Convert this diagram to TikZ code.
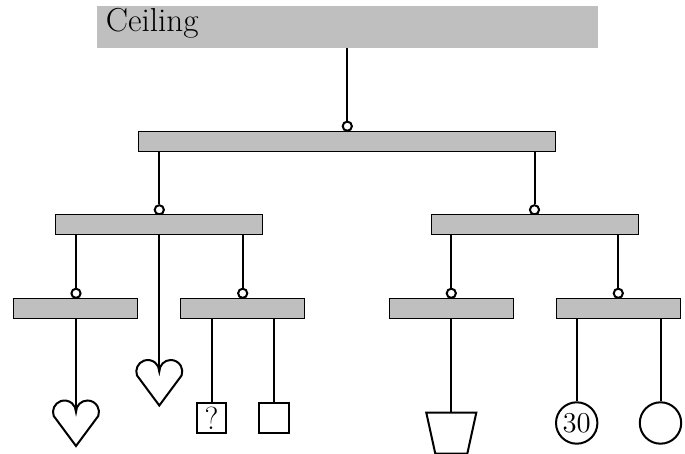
\documentclass[tikz,border=0pt]{standalone}
\begin{document}
\begin{tikzpicture}[x=0.5pt,y=-0.5pt,
  bar/.style={rectangle, draw=black, line width=0.5pt, fill=lightgray,
              inner sep=0pt, minimum height=9.8pt},
  pivot/.style={circle, draw=black, line width=1pt, fill=white,
                inner sep=0pt, minimum size=4.6pt},
  rod/.style={line width=1pt},
  hang/.style={draw=black, line width=1pt},
  ball/.style={circle, hang, inner sep=0pt, minimum size=20.7pt, font=\Large},
  cube/.style={rectangle, hang, inner sep=0pt, minimum size=14.9pt,
               font=\fontsize{16}{19}\selectfont},
  heart/.pic={\path[hang] (0,34) -- (-22.31,3.93)
      arc[start angle=-200, end angle=0, radius=11.5]
      arc[start angle=-180, end angle=20, radius=11.5] -- cycle;}]
\useasboundingbox (0,0) rectangle (685,454);

% ceiling
\node[rectangle, fill=lightgray, inner sep=0pt, minimum width=250.5pt,
      minimum height=21pt] (ceil) at (347.5,27) {};
\node[anchor=base west, inner sep=0pt, font=\fontsize{16.6}{20}\selectfont]
      (ceiltext) at (105.5,31.5) {Ceiling};

% top level
\node[pivot] (p0) at (347.3,126.2) {};
\node[bar, minimum width=208.4pt] (b0) at (347.2,141.3) {};

% second level
\node[pivot] (p1) at (159.3,209.8) {};
\node[pivot] (p2) at (534.5,209.8) {};
\node[bar, minimum width=103.7pt] (b1) at (159.2,224.7) {};
\node[bar, minimum width=103.7pt] (b2) at (535,224.7) {};

% third level
\node[pivot] (p11) at (76,293.3) {};
\node[pivot] (p12) at (242.7,293.3) {};
\node[pivot] (p21) at (451.3,293.3) {};
\node[pivot] (p22) at (618.3,293.3) {};
\node[bar, minimum width=62pt] (b11) at (75.8,308.3) {};
\node[bar, minimum width=62pt] (b12) at (242.5,308.3) {};
\node[bar, minimum width=62pt] (b21) at (451.7,308.3) {};
\node[bar, minimum width=62pt] (b22) at (618.5,308.3) {};

% hanging objects
\coordinate (h0) at (159.3,371.5);
\coordinate (h1) at (76,412);
\pic at (h0) {heart};
\pic at (h1) {heart};
\node[cube] (q) at (211.5,418) {?};
\node[cube] (e) at (274.2,418) {};
\coordinate (tz) at (451.3,412.7);
\path[hang] (tz) ++(-25,0) -- ++(50,0) -- ++(-9,41) -- ++(-32,0) -- cycle;
\node[ball] (c30) at (576.7,423) {30};
\node[ball] (o) at (660.5,423) {};

% rods
\draw[rod] (ceil.south -| p0) -- (p0.north);
\draw[rod] (b0.south -| p1) -- (p1.north);
\draw[rod] (b0.south -| p2) -- (p2.north);
\draw[rod] (b1.south -| p11) -- (p11.north);
\draw[rod] (b1.south -| p12) -- (p12.north);
\draw[rod] (b1.south -| h0) -- (h0);
\draw[rod] (b2.south -| p21) -- (p21.north);
\draw[rod] (b2.south -| p22) -- (p22.north);
\draw[rod] (b11.south -| h1) -- (h1);
\draw[rod] (b12.south -| q) -- (q.north);
\draw[rod] (b12.south -| e) -- (e.north);
\draw[rod] (b21.south -| tz) -- (tz);
\draw[rod] (b22.south -| c30) -- (c30.north);
\draw[rod] (b22.south -| o) -- (o.north);
\end{tikzpicture}
\end{document}
